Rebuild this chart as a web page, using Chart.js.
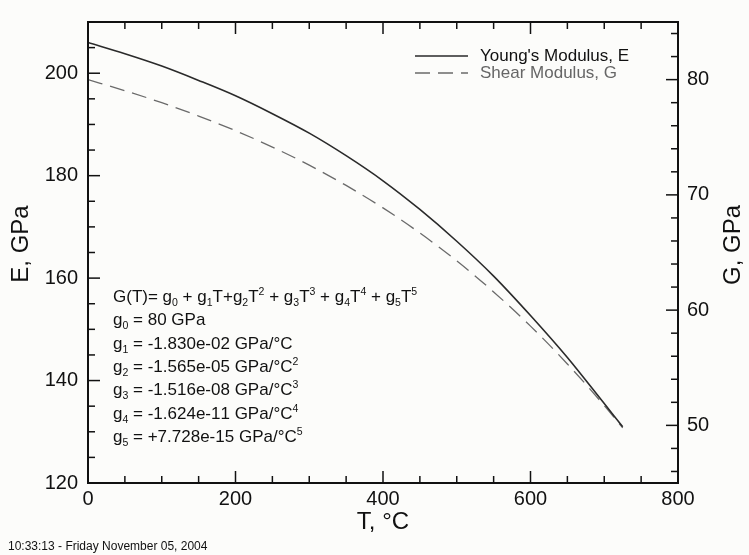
<!DOCTYPE html>
<html>
<head>
<meta charset="utf-8">
<script src="https://cdn.jsdelivr.net/npm/chart.js@4.4.1/dist/chart.umd.min.js"></script>
<style>
  body { margin: 0; background: #fcfcfa; }
  #wrap { width: 749px; height: 555px; }
</style>
</head>
<body>
<div id="wrap"><canvas id="modulusChart" width="749" height="555"></canvas></div>
<script>
// values
const temps  = [0, 50, 100, 150, 200, 250, 300, 350, 400, 450, 500, 550, 600, 650, 700, 725];
const youngs = [206.0, 203.8, 201.4, 198.6, 195.6, 192.1, 188.3, 183.9, 179.0, 173.4, 167.2, 160.4, 152.7, 144.5, 135.5, 131.0];
const shear  = [80.0, 79.04, 78.0, 76.84, 75.57, 74.15, 72.58, 70.82, 68.87, 66.69, 64.27, 61.58, 58.61, 55.33, 51.72, 49.79];

const tempTicks = [0, 200, 400, 600, 800];
const eTicks = [120, 140, 160, 180, 200];
const gTicks = [50, 60, 70, 80];

const seriesNames = ["Young's Modulus, E", 'Shear Modulus, G'];
const axisNames = ['T, °C', 'E, GPa', 'G, GPa'];
const fitLines = [
    'G(T)= g_0 + g_1T+g_2T^2 + g_3T^3 + g_4T^4 + g_5T^5',
    'g_0 = 80 GPa',
    'g_1 = -1.830e-02 GPa/°C',
    'g_2 = -1.565e-05 GPa/°C^2',
    'g_3 = -1.516e-08 GPa/°C^3',
    'g_4 = -1.624e-11 GPa/°C^4',
    'g_5 = +7.728e-15 GPa/°C^5'
];
const stamp = '10:33:13 - Friday November 05, 2004';

const FONT = '"Liberation Sans", Arial, Helvetica, sans-serif';

// text with _x subscripts and ^x superscripts
function richText(ctx, str, x, y, size) {
    let i = 0;
    while (i < str.length) {
        let ch = str[i], s = size, dy = 0;
        if ((ch === '_' || ch === '^') && i + 1 < str.length) {
            s = size * 0.62;
            dy = ch === '_' ? 4 : -7;
            ch = str[i + 1];
            i += 2;
        } else {
            i += 1;
        }
        ctx.font = s + 'px ' + FONT;
        ctx.fillText(ch, x, y + dy);
        x += ctx.measureText(ch).width;
    }
}

function range(from, to, step) {
    const out = [];
    for (let v = from; v <= to + 1e-9; v += step) out.push(v);
    return out;
}

function sideTitle(ctx, text, x, y) {
    ctx.save();
    ctx.translate(x, y);
    ctx.rotate(-Math.PI / 2);
    ctx.font = '24px ' + FONT;
    ctx.textAlign = 'center';
    ctx.textBaseline = 'middle';
    ctx.fillText(text, 0, 0);
    ctx.restore();
}

const framePlugin = {
    id: 'frame',
    afterDraw(chart) {
        const { ctx, chartArea: a, scales } = chart;
        ctx.save();
        ctx.strokeStyle = '#111';
        ctx.lineWidth = 2;
        ctx.strokeRect(a.left, a.top, a.right - a.left, a.bottom - a.top);

        ctx.lineWidth = 1.5;
        const tick = (x1, y1, x2, y2) => { ctx.beginPath(); ctx.moveTo(x1, y1); ctx.lineTo(x2, y2); ctx.stroke(); };

        range(0, 800, 50).forEach(v => {
            const len = v % 200 === 0 ? 12 : 7;
            const x = scales.x.getPixelForValue(v);
            tick(x, a.bottom, x, a.bottom - len);
            tick(x, a.top, x, a.top + len);
        });
        range(120, 210, 5).forEach(v => {
            const len = v % 20 === 0 ? 12 : 7;
            const y = scales.yE.getPixelForValue(v);
            tick(a.left, y, a.left + len, y);
        });
        range(46, 84, 2).forEach(v => {
            const len = v % 10 === 0 ? 12 : 7;
            const y = scales.yG.getPixelForValue(v);
            tick(a.right, y, a.right - len, y);
        });

        // both side titles read bottom to top
        ctx.fillStyle = '#111';
        sideTitle(ctx, axisNames[1], 21, 244);
        sideTitle(ctx, axisNames[2], 733, 245);

        // legend
        const ds = chart.data.datasets;
        const lx = 415, ly = [56, 73];
        ds.forEach((d, i) => {
            ctx.strokeStyle = d.borderColor;
            ctx.lineWidth = d.borderWidth;
            ctx.setLineDash(d.borderDash || []);
            tick(lx, ly[i], lx + 53, ly[i]);
            ctx.setLineDash([]);
            ctx.fillStyle = i === 0 ? '#111' : '#666';
            ctx.font = '17px ' + FONT;
            ctx.textBaseline = 'middle';
            ctx.fillText(d.label, lx + 65, ly[i]);
        });

        // fit coefficients
        ctx.textBaseline = 'alphabetic';
        ctx.fillStyle = '#111';
        fitLines.forEach((line, i) => richText(ctx, line, 113, 302 + i * 23.3, 17));

        ctx.font = '12px ' + FONT;
        ctx.fillText(stamp, 8, 550);
        ctx.restore();
    }
};

const fixTicks = list => scale => { scale.ticks = list.map(v => ({ value: v })); };

new Chart(document.getElementById('modulusChart'), {
    type: 'line',
    data: {
        datasets: [{
            label: seriesNames[0],
            data: temps.map((t, i) => ({ x: t, y: youngs[i] })),
            yAxisID: 'yE',
            borderColor: '#2a2a2a',
            borderWidth: 1.6,
            pointRadius: 0,
            cubicInterpolationMode: 'monotone',
            fill: false
        }, {
            label: seriesNames[1],
            data: temps.map((t, i) => ({ x: t, y: shear[i] })),
            yAxisID: 'yG',
            borderColor: '#6a6a6a',
            borderWidth: 1.3,
            borderDash: [15, 8],
            pointRadius: 0,
            cubicInterpolationMode: 'monotone',
            fill: false
        }]
    },
    options: {
        responsive: false,
        animation: false,
        layout: { padding: { top: 10 } },
        plugins: { legend: { display: false }, tooltip: { enabled: false } },
        scales: {
            x: {
                type: 'linear', min: 0, max: 800,
                afterBuildTicks: fixTicks(tempTicks),
                afterFit: s => { s.height = 72; },
                grid: { display: false, drawTicks: false },
                border: { display: false },
                ticks: { color: '#111', padding: 4, font: { family: FONT, size: 20 } },
                title: { display: true, text: axisNames[0], color: '#111', padding: { bottom: 18 }, font: { family: FONT, size: 24 } }
            },
            yE: {
                type: 'linear', position: 'left', min: 120, max: 210,
                afterBuildTicks: fixTicks(eTicks),
                afterFit: s => { s.width = 88; },
                grid: { display: false, drawTicks: false },
                border: { display: false },
                ticks: { color: '#111', padding: 10, font: { family: FONT, size: 20 } }
            },
            yG: {
                type: 'linear', position: 'right', min: 45, max: 85,
                afterBuildTicks: fixTicks(gTicks),
                afterFit: s => { s.width = 71; },
                grid: { display: false, drawTicks: false },
                border: { display: false },
                ticks: { color: '#111', padding: 9, font: { family: FONT, size: 20 } }
            }
        }
    },
    plugins: [framePlugin]
});
</script>
</body>
</html>
